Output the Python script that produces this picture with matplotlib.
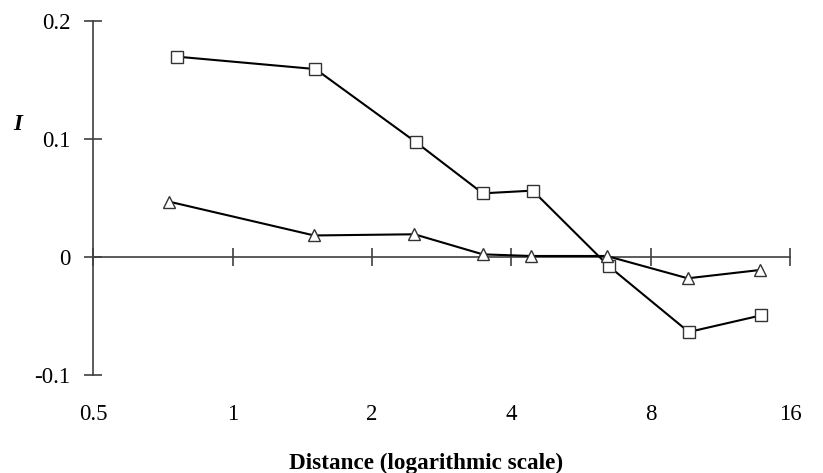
import numpy as np
import matplotlib.pyplot as plt

# values
sq_x = [0.76, 1.51, 2.49, 3.47, 4.45, 6.49, 9.67, 13.83]
sq_y = [0.1695, 0.159, 0.097, 0.0537, 0.056, -0.0079, -0.0638, -0.0498]
tri_x = [0.73, 1.50, 2.47, 3.47, 4.42, 6.43, 9.62, 13.76]
tri_y = [0.0466, 0.018, 0.019, 0.002, 0.0006, 0.0006, -0.0183, -0.0113]

xticks = [0.5, 1, 2, 4, 8, 16]
xlabels = ['0.5', '1', '2', '4', '8', '16']
yticks = [-0.1, 0, 0.1, 0.2]
ylabels = ['-0.1', '0', '0.1', '0.2']

plt.rcParams['font.family'] = ['Liberation Serif', 'DejaVu Serif']

fig = plt.figure(figsize=(8.23, 4.73), dpi=100)
ax = fig.add_axes([93.3 / 823, 1 - 374.7 / 473, (790 - 93.3) / 823, (374.7 - 20.7) / 473])

ax.plot(sq_x, sq_y, color='black', lw=1.5, marker='s', ms=8,
        mfc='white', mec='#333333', mew=1, zorder=3)
ax.plot(tri_x, tri_y, color='black', lw=1.5, marker='^', ms=8,
        mfc='white', mec='#333333', mew=1, zorder=3)

ax.set_xscale('log', base=2)
ax.set_xlim(0.5, 16)
ax.set_ylim(-0.1, 0.2)

for s in ['top', 'right']:
    ax.spines[s].set_visible(False)
ax.spines['bottom'].set_position(('data', 0))
for s in ['left', 'bottom']:
    ax.spines[s].set_color('#404040')
    ax.spines[s].set_linewidth(1.2)

ax.set_xticks(xticks)
ax.set_xticklabels([])
ax.xaxis.set_minor_locator(plt.NullLocator())
ax.set_yticks(yticks)
ax.set_yticklabels(ylabels, fontsize=16.5)
ax.tick_params(axis='both', direction='inout', length=13, width=1.2, color='#404040')
ax.tick_params(axis='y', pad=10)

# x tick labels sit below the plot, not at the y=0 axis line
for xv, lab in zip(xticks, xlabels):
    ax.text(xv, -0.134, lab, ha='center', va='center', fontsize=16.5)

fig.text(426 / 823, 1 - 469.3 / 473, 'Distance (logarithmic scale)',
         ha='center', va='baseline', fontsize=16.7, fontweight='bold')
fig.text(17.5 / 823, 1 - 125 / 473, 'I', fontsize=16.5, fontweight='bold',
         fontstyle='italic', ha='center', va='center')

fig.savefig('out.png', dpi=100)
